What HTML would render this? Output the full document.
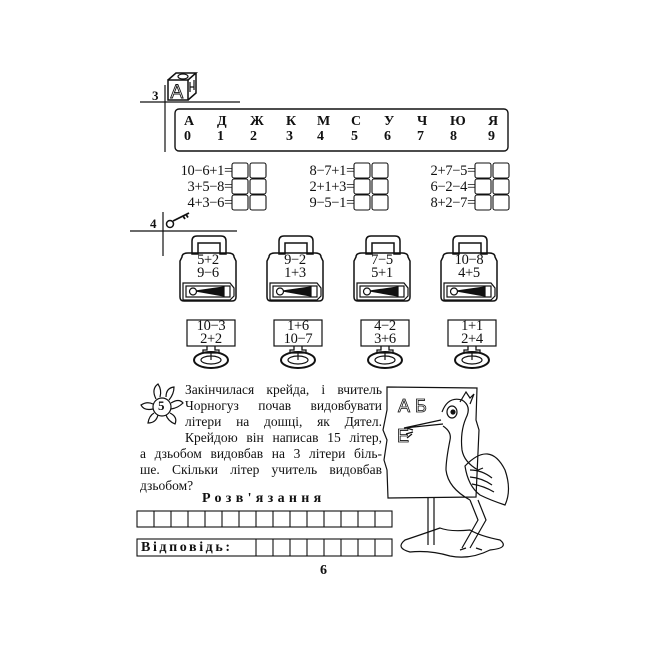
<!DOCTYPE html>
<html><head><meta charset="utf-8"><style>
body{margin:0;background:#fff;width:650px;height:650px;overflow:hidden;position:relative;font-family:"Liberation Serif","DejaVu Serif",serif;color:#111}
.a{position:absolute;white-space:nowrap}
.t{font-size:13.5px;line-height:16px}
.e{font-size:14.5px;line-height:16px;letter-spacing:-0.3px}
</style></head><body>
<svg width="650" height="650" style="position:absolute;left:0;top:0" stroke="#111" fill="none" stroke-width="1.2">
<defs>
<g id="lock">
<path d="M12,1 V-12 Q12,-17 17,-17 H41 Q46,-17 46,-12 V1 H40 V-10 H18 V1 Z" stroke-width="1.5"/>
<path d="M2,4 Q2,0 8,0 H48 Q54,0 54,4 L56,8 V44 Q56,48 52,48 H4 Q0,48 0,44 V8 Z" stroke-width="1.5"/>
<path d="M3,30 H50 L54,35 V43 L50,47 H3 Z"/>
<rect x="6" y="33" width="44" height="11"/>
<circle cx="13" cy="38.5" r="3.5"/>
<path d="M16,38 L44,34 V43 Z" fill="#111"/>
</g>
<g id="key">
<path d="M-4,26 V30 H-8 V33 H8 V30 H4 V26" stroke-width="1.3"/>
<ellipse cx="0" cy="40" rx="17" ry="8" stroke-width="2"/>
<ellipse cx="0" cy="40" rx="10" ry="4"/>
<line x1="0" y1="33" x2="0" y2="40"/>
</g>
</defs>
<line x1="140" y1="102" x2="240" y2="102"/>
<line x1="165" y1="85" x2="165" y2="152"/>
<rect x="168" y="80" width="20" height="20" stroke-width="1.5"/>
<path d="M168,80 L176,73 H196 L188,80 M196,73 V93 L188,100" stroke-width="1.5"/>
<ellipse cx="183" cy="76.5" rx="5" ry="2.5"/>
<path d="M190,82 V92 M190,87 H194 M194,80 V90"/>
<text x="170.5" y="98" font-family="Liberation Sans" font-size="19" fill="none" stroke="#111" stroke-width="0.9">A</text>
<rect x="175" y="109" width="333" height="42" rx="4" stroke-width="1.4"/>
<g stroke-width="1.1">
<rect x="232" y="163" width="16" height="15" rx="2"/><rect x="250" y="163" width="16" height="15" rx="2"/>
<rect x="232" y="179" width="16" height="15" rx="2"/><rect x="250" y="179" width="16" height="15" rx="2"/>
<rect x="232" y="195" width="16" height="15" rx="2"/><rect x="250" y="195" width="16" height="15" rx="2"/>
<rect x="354" y="163" width="16" height="15" rx="2"/><rect x="372" y="163" width="16" height="15" rx="2"/>
<rect x="354" y="179" width="16" height="15" rx="2"/><rect x="372" y="179" width="16" height="15" rx="2"/>
<rect x="354" y="195" width="16" height="15" rx="2"/><rect x="372" y="195" width="16" height="15" rx="2"/>
<rect x="475" y="163" width="16" height="15" rx="2"/><rect x="493" y="163" width="16" height="15" rx="2"/>
<rect x="475" y="179" width="16" height="15" rx="2"/><rect x="493" y="179" width="16" height="15" rx="2"/>
<rect x="475" y="195" width="16" height="15" rx="2"/><rect x="493" y="195" width="16" height="15" rx="2"/>
</g>
<line x1="130" y1="231" x2="237" y2="231"/>
<line x1="163" y1="212" x2="163" y2="256"/>
<circle cx="170" cy="224" r="3.5" stroke-width="1.5"/>
<path d="M173,221 L189,213 M183,216 l2,3 M186,214.5 l2,3" stroke-width="1.8"/>
<use href="#lock" x="180" y="253"/>
<use href="#lock" x="267" y="253"/>
<use href="#lock" x="354" y="253"/>
<use href="#lock" x="441" y="253"/>
<rect x="187" y="320" width="48" height="26"/>
<rect x="274" y="320" width="48" height="26"/>
<rect x="361" y="320" width="48" height="26"/>
<rect x="448" y="320" width="48" height="26"/>
<use href="#key" x="211" y="320"/>
<use href="#key" x="298" y="320"/>
<use href="#key" x="385" y="320"/>
<use href="#key" x="472" y="320"/>
<circle cx="162" cy="407" r="9"/>
<path d="M156,399 Q151,389 158,384 Q162,390 160,397 M166,397 Q166,388 174,387 Q174,394 169,400 M171,403 Q179,398 183,403 Q178,408 171,409 M170,413 Q178,417 175,424 Q168,421 166,415 M158,415 Q156,423 148,423 Q149,416 154,413 M153,409 Q144,411 141,405 Q147,401 153,404"/>
<g stroke-width="1.1">
<rect x="137" y="511" width="255" height="16"/>
<path d="M154,511V527M171,511V527M188,511V527M205,511V527M222,511V527M239,511V527M256,511V527M273,511V527M290,511V527M307,511V527M324,511V527M341,511V527M358,511V527M375,511V527"/>
<rect x="137" y="539" width="255" height="17"/>
<path d="M256,539V556M273,539V556M290,539V556M307,539V556M324,539V556M341,539V556M358,539V556M375,539V556"/>
</g>
<path d="M387,387 L477,388 L476,420 L479,430 L476,497 L388,498 L387,470 L384,460 L387,440 L383,430 L387,410 Z"/>
<path d="M428,498 V545 M434,498 V545"/>
<path d="M405,540 Q395,548 410,552 Q430,550 450,556 Q470,560 490,550 Q510,548 500,540 Q480,536 470,530 Q450,532 440,528 Q420,535 405,540 Z"/>
<text x="398" y="412" font-family="Liberation Sans" font-size="18" fill="none" stroke="#111" stroke-width="0.8">А Б</text>
<text x="397" y="442" font-family="Liberation Sans" font-size="18" fill="none" stroke="#111" stroke-width="0.8">Е</text>
<path d="M441,420 L404,428 L443,424" stroke-width="1.3"/>
<path d="M442,412 Q448,396 462,400 Q472,406 466,418 Q460,432 462,450 Q464,462 478,470 L483,468"/>
<path d="M443,426 Q452,432 450,440 Q446,460 446,470 Q448,488 470,500"/>
<ellipse cx="452" cy="412" rx="5" ry="6"/><circle cx="453" cy="412" r="2" fill="#111"/>
<path d="M460,402 L466,392 L470,398 L474,394 L470,404"/>
<path d="M465,466 Q490,440 505,470 Q512,490 505,505 Q490,500 480,495 Q468,486 465,466 Z"/>
<path d="M470,470 Q482,470 492,478 M470,477 Q482,478 492,485 M472,484 Q484,486 494,492"/>
<path d="M470,500 L478,520 L462,548 M478,500 L486,520 L470,548 M466,548 l-6,2 M476,548 l6,2"/>
<path d="M413,430 l-6,-2 M413,432 l-7,2 M412,434 l-5,4"/>
</svg>

<div class="a" style="left:152px;top:88px;font-size:13px;font-weight:bold">3</div>
<div class="a" style="left:150px;top:216px;font-size:13px;font-weight:bold">4</div>
<div class="a" style="left:158px;top:398px;font-size:13px;font-weight:bold">5</div>

<div class="a" style="top:114px;left:0;font-size:14px;font-weight:bold;line-height:15px">
<span class="a" style="left:184px">А<br>0</span>
<span class="a" style="left:217px">Д<br>1</span>
<span class="a" style="left:250px">Ж<br>2</span>
<span class="a" style="left:286px">К<br>3</span>
<span class="a" style="left:317px">М<br>4</span>
<span class="a" style="left:351px">С<br>5</span>
<span class="a" style="left:384px">У<br>6</span>
<span class="a" style="left:417px">Ч<br>7</span>
<span class="a" style="left:450px">Ю<br>8</span>
<span class="a" style="left:488px">Я<br>9</span>
</div>

<div class="a e" style="right:418px;top:163px;text-align:right">10−6+1=<br>3+5−8=<br>4+3−6=</div>
<div class="a e" style="right:296px;top:163px;text-align:right">8−7+1=<br>2+1+3=<br>9−5−1=</div>
<div class="a e" style="right:175px;top:163px;text-align:right">2+7−5=<br>6−2−4=<br>8+2−7=</div>

<div class="a e" style="left:180px;top:254px;width:56px;text-align:center;line-height:13px">5+2<br>9−6</div>
<div class="a e" style="left:267px;top:254px;width:56px;text-align:center;line-height:13px">9−2<br>1+3</div>
<div class="a e" style="left:354px;top:254px;width:56px;text-align:center;line-height:13px">7−5<br>5+1</div>
<div class="a e" style="left:441px;top:254px;width:56px;text-align:center;line-height:13px">10−8<br>4+5</div>

<div class="a e" style="left:187px;top:320px;width:48px;text-align:center;line-height:12.5px">10−3<br>2+2</div>
<div class="a e" style="left:274px;top:320px;width:48px;text-align:center;line-height:12.5px">1+6<br>10−7</div>
<div class="a e" style="left:361px;top:320px;width:48px;text-align:center;line-height:12.5px">4−2<br>3+6</div>
<div class="a e" style="left:448px;top:320px;width:48px;text-align:center;line-height:12.5px">1+1<br>2+4</div>

<div class="a t" style="left:185px;top:382px;width:197px;text-align:justify;text-align-last:justify">Закінчилася крейда, і вчитель</div>
<div class="a t" style="left:185px;top:398px;width:197px;text-align:justify;text-align-last:justify">Чорногуз почав видовбувати</div>
<div class="a t" style="left:185px;top:414px;width:197px;text-align:justify;text-align-last:justify">літери на дошці, як Дятел.</div>
<div class="a t" style="left:185px;top:430px;width:197px;text-align:justify;text-align-last:justify">Крейдою він написав 15 літер,</div>
<div class="a t" style="left:140px;top:446px;width:242px;text-align:justify;text-align-last:justify">а дзьобом видовбав на 3 літери біль-</div>
<div class="a t" style="left:140px;top:462px;width:242px;text-align:justify;text-align-last:justify">ше. Скільки літер учитель видовбав</div>
<div class="a t" style="left:140px;top:478px;">дзьобом?</div>

<div class="a" style="left:202px;top:491px;font-size:14px;font-weight:bold;letter-spacing:4.3px">Розв'язання</div>
<div class="a" style="left:141px;top:539px;font-size:14px;font-weight:bold;letter-spacing:2.6px;line-height:17px">Відповідь:</div>
<div class="a" style="left:320px;top:563px;font-size:14px;font-weight:bold">6</div>
</body></html>
